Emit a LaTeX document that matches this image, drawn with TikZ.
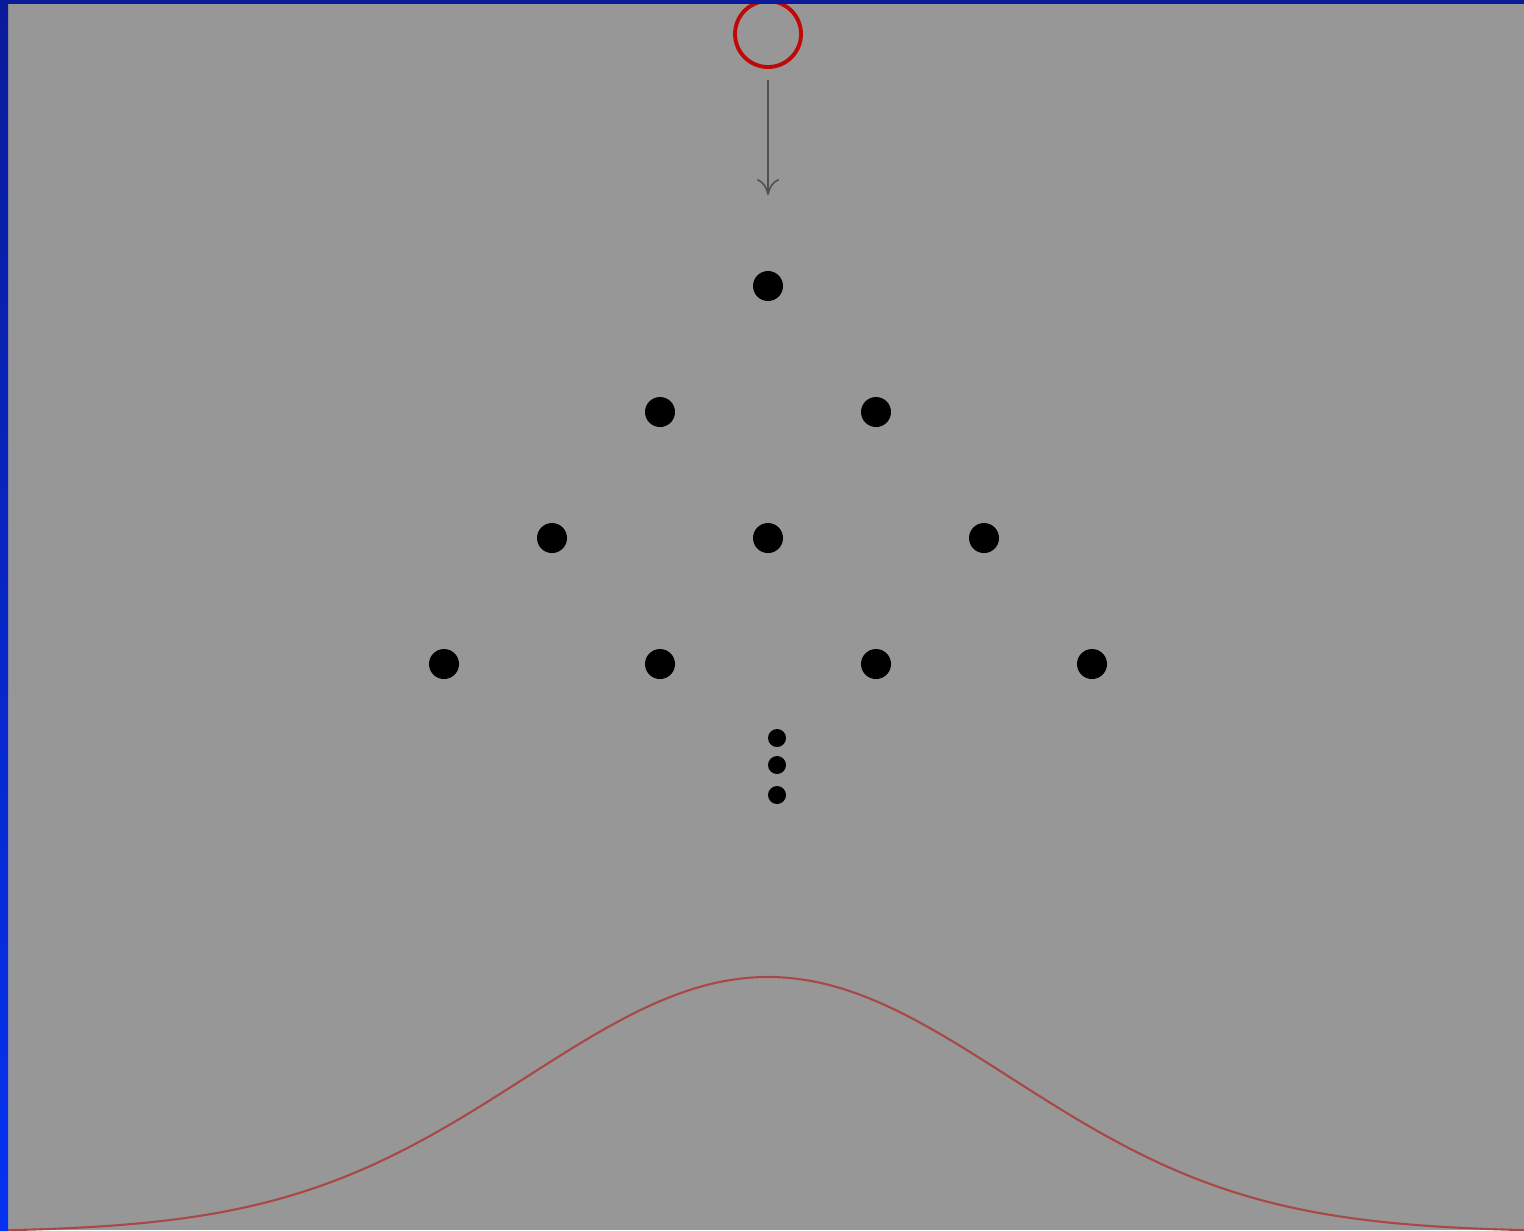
\documentclass[tikz,border=0pt]{standalone}
\usetikzlibrary{arrows.meta,calc,positioning}
\definecolor{Slate}{HTML}{979797}
\definecolor{RimDeep}{HTML}{0A1A9A}
\definecolor{RimBright}{HTML}{0532F2}
\definecolor{Crimson}{HTML}{C00808}
\definecolor{Rust}{HTML}{A84848}
\definecolor{Pointer}{HTML}{505050}

\begin{document}
\begin{tikzpicture}[x=0.1mm,y=-0.1mm,dot/.style={circle,fill=black,inner sep=0pt,minimum size=3mm},tinydot/.style={circle,fill=black,inner sep=0pt,minimum size=1.8mm},arrow/.style={-{To[length=1.6mm,width=2.2mm]},line width=0.45pt,draw=Pointer}]
\useasboundingbox (0,0) rectangle (1524,1230);
\clip (0,0) rectangle (1524,1230);
\fill[Slate] (0,0) rectangle (1524,1230);

\node[circle,draw=Crimson,line width=1.1pt,inner sep=0pt,minimum size=6.6mm] (ball) at (768,34) {};
\coordinate (drop) at (768,195);
\draw[arrow,shorten <=1.1mm] (ball.south) -- (drop);

\node[dot] (p1) at (768,286) {};
\node[dot] (p2a) at (660,412) {}; \node[dot] (p2b) at (876,412) {};
\node[dot] (p3a) at (552,538) {}; \node[dot] (p3b) at (768,538) {}; \node[dot] (p3c) at (984,538) {};
\node[dot] (p4a) at (444,664) {}; \node[dot] (p4b) at (660,664) {}; \node[dot] (p4c) at (876,664) {}; \node[dot] (p4d) at (1092,664) {};
\node[tinydot] (more1) at (777,738) {}; \node[tinydot] (more2) at (777,765) {}; \node[tinydot] (more3) at (777,795) {};

\draw[Rust,line width=0.6pt] plot[domain=0:1524,samples=220,smooth] (\x,{1232-255*exp(-0.5*((\x-768)/242)^2)});

\shade[top color=RimDeep,bottom color=RimBright] (0,0) rectangle (8,1230);
\fill[RimDeep] (0,0) rectangle (1524,4);
\end{tikzpicture}
\end{document}
